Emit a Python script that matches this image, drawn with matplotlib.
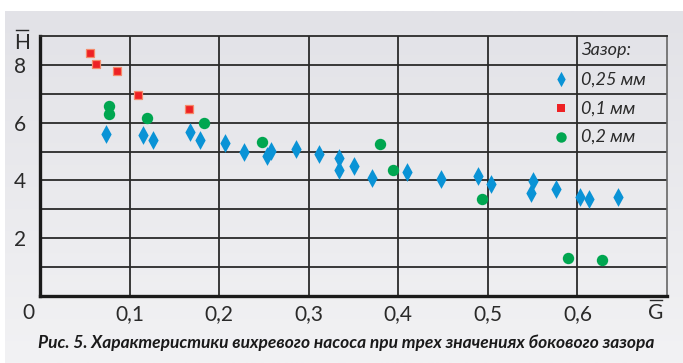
import numpy as np
import matplotlib
matplotlib.use("Agg")
import matplotlib.pyplot as plt
from matplotlib.path import Path
from matplotlib.lines import Line2D

# Relative flow G and head H for three side clearances
g_025 = [0.074, 0.115, 0.126, 0.167, 0.179, 0.206, 0.228, 0.253, 0.258, 0.286,
         0.312, 0.334, 0.334, 0.351, 0.371, 0.410, 0.448, 0.489, 0.503, 0.550,
         0.548, 0.576, 0.603, 0.613, 0.645]
h_025 = [5.62, 5.59, 5.39, 5.69, 5.41, 5.28, 4.98, 4.83, 5.01, 5.10,
         4.91, 4.78, 4.37, 4.50, 4.08, 4.28, 4.05, 4.16, 3.86, 3.97,
         3.56, 3.72, 3.44, 3.36, 3.41]

g_01 = [0.0555, 0.0622, 0.0856, 0.1098, 0.1667]
h_01 = [8.40, 8.02, 7.78, 6.96, 6.46]

g_02 = [0.0767, 0.0767, 0.1194, 0.1827, 0.2478, 0.380, 0.3936, 0.493, 0.590, 0.627]
h_02 = [6.57, 6.31, 6.15, 5.98, 5.34, 5.25, 4.36, 3.36, 1.30, 1.25]

x_ticks = [0.1, 0.2, 0.3, 0.4, 0.5, 0.6]
x_labels = ["0,1", "0,2", "0,3", "0,4", "0,5", "0,6"]
y_ticks = [1, 2, 3, 4, 5, 6, 7, 8]
y_labels = ["", "2", "", "4", "", "6", "", "8"]

legend_title = "Зазор:"
legend_labels = ["0,25 мм", "0,1 мм", "0,2 мм"]
caption = "Рис. 5. Характеристики вихревого насоса при трех значениях бокового зазора"

BLUE = "#0a93d6"
RED = "#ee2124"
RED_EDGE = "#f58a6a"
GREEN = "#00a650"
GRID = "#2a2a2a"
TEXT = "#2a2a2a"

W, H = 683, 363
fig = plt.figure(figsize=(W / 100, H / 100), dpi=100)
fig.patch.set_facecolor("white")

# Grey gradient panel behind the chart
bg = fig.add_axes([5 / W, 0, 1 - 5 / W, (H - 11) / H], zorder=-10)
top_c = np.array([226, 226, 231]) / 255
bot_c = np.array([242, 242, 244]) / 255
t = np.linspace(0, 1, 256)[:, None]
grad = (top_c[None, :] * (1 - t) + bot_c[None, :] * t)[:, None, :]
bg.imshow(grad, aspect="auto", extent=[0, 1, 0, 1])
bg.set_axis_off()

ax = fig.add_axes([40 / W, 1 - 296 / H, (667 - 40) / W, (296 - 36) / H])
ax.set_facecolor("none")
ax.set_xlim(0, 0.7)
ax.set_ylim(0, 9)

ax.set_xticks(x_ticks)
ax.set_xticklabels(x_labels)
ax.set_yticks(y_ticks)
ax.set_yticklabels(y_labels)
ax.tick_params(length=0, labelsize=15, colors=TEXT)
ax.tick_params(axis="x", pad=6)
ax.tick_params(axis="y", pad=10)
for lab in ax.get_xticklabels() + ax.get_yticklabels():
    lab.set_family("Lato")

ax.grid(True, color=GRID, linewidth=1.3)
ax.set_axisbelow(True)
for side in ("left", "bottom"):
    ax.spines[side].set_linewidth(2.4)
    ax.spines[side].set_color("#1a1a1a")
ax.spines["top"].set_linewidth(1.3)
ax.spines["top"].set_color(GRID)
ax.spines["right"].set_linewidth(1.2)
ax.spines["right"].set_color("#666666")

# Elongated diamond marker
diamond = Path([(0, 1), (0.55, 0), (0, -1), (-0.55, 0), (0, 1)],
               [Path.MOVETO, Path.LINETO, Path.LINETO, Path.LINETO, Path.CLOSEPOLY])

ax.plot(g_025, h_025, linestyle="none", marker=diamond, markersize=13.5,
        color=BLUE, markeredgewidth=0, zorder=3)
ax.plot(g_01, h_01, linestyle="none", marker="s", markersize=5.6,
        markerfacecolor=RED, markeredgecolor=RED_EDGE, markeredgewidth=0.9, zorder=3)
ax.plot(g_02, h_02, linestyle="none", marker="o", markersize=8.2,
        color=GREEN, markeredgewidth=0, zorder=3)

# Legend drawn inside the grid cells
lx_mark = 0.582
lx_text = 0.6045
ax.text(lx_text, 8.5, legend_title, family="Lato", style="italic",
        fontsize=13, va="center", ha="left", color=TEXT)
ax.plot([lx_mark], [7.5], linestyle="none", marker=diamond, markersize=11,
        color=BLUE, markeredgewidth=0)
ax.plot([lx_mark], [6.5], linestyle="none", marker="s", markersize=6,
        color=RED, markeredgewidth=0)
ax.plot([lx_mark], [5.5], linestyle="none", marker="o", markersize=7.5,
        color=GREEN, markeredgewidth=0)
for yv, lab in zip([7.5, 6.5, 5.5], legend_labels):
    ax.text(lx_text, yv, lab, family="Lato", style="italic",
            fontsize=13, va="center", ha="left", color=TEXT)


def barred_label(cx, cy, letter):
    """Axis name with a bar over it, positioned in pixels from the top-left."""
    fig.text(cx / W, 1 - cy / H, letter, family="Lato", fontsize=15,
             ha="center", va="center", color=TEXT)
    bar_y = 1 - (cy - 13) / H
    fig.add_artist(Line2D([(cx - 6) / W, (cx + 6) / W], [bar_y, bar_y],
                          transform=fig.transFigure, color=TEXT, linewidth=1.0))


barred_label(22, 43, "H")
barred_label(656, 313, "G")
fig.text(28 / W, 1 - 313 / H, "0", family="Lato",
         fontsize=15, ha="center", va="center", color=TEXT)

fig.text(346 / W, 1 - 343 / H, caption, family="Lato", style="italic",
         fontweight="bold", fontsize=12.5, ha="center", va="center",
         color="#1a1a1a")

fig.savefig("out.png", dpi=100)
